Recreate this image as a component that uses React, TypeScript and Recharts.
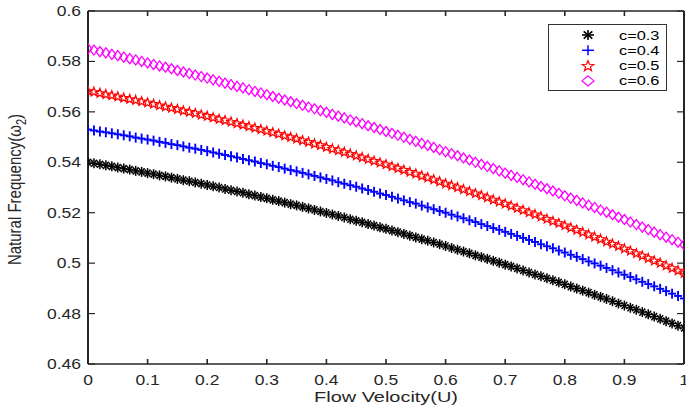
import React from 'react';
import { ScatterChart, Scatter, XAxis, YAxis, Legend } from 'recharts';

const U = [0, 0.01, 0.02, 0.03, 0.04, 0.05, 0.06, 0.07, 0.08, 0.09,
  0.1, 0.11, 0.12, 0.13, 0.14, 0.15, 0.16, 0.17, 0.18, 0.19,
  0.2, 0.21, 0.22, 0.23, 0.24, 0.25, 0.26, 0.27, 0.28, 0.29,
  0.3, 0.31, 0.32, 0.33, 0.34, 0.35, 0.36, 0.37, 0.38, 0.39,
  0.4, 0.41, 0.42, 0.43, 0.44, 0.45, 0.46, 0.47, 0.48, 0.49,
  0.5, 0.51, 0.52, 0.53, 0.54, 0.55, 0.56, 0.57, 0.58, 0.59,
  0.6, 0.61, 0.62, 0.63, 0.64, 0.65, 0.66, 0.67, 0.68, 0.69,
  0.7, 0.71, 0.72, 0.73, 0.74, 0.75, 0.76, 0.77, 0.78, 0.79,
  0.8, 0.81, 0.82, 0.83, 0.84, 0.85, 0.86, 0.87, 0.88, 0.89,
  0.9, 0.91, 0.92, 0.93, 0.94, 0.95, 0.96, 0.97, 0.98, 0.99, 1];

const C03 = [0.5400, 0.5396, 0.5392, 0.5388, 0.5384, 0.5379, 0.5375, 0.5371, 0.5366, 0.5362,
  0.5357, 0.5353, 0.5348, 0.5344, 0.5339, 0.5334, 0.5329, 0.5325, 0.5320, 0.5315,
  0.5310, 0.5305, 0.5300, 0.5294, 0.5289, 0.5284, 0.5279, 0.5273, 0.5268, 0.5262,
  0.5257, 0.5251, 0.5246, 0.5240, 0.5234, 0.5229, 0.5223, 0.5217, 0.5211, 0.5205,
  0.5199, 0.5193, 0.5187, 0.5181, 0.5174, 0.5168, 0.5162, 0.5155, 0.5149, 0.5142,
  0.5136, 0.5129, 0.5123, 0.5116, 0.5109, 0.5102, 0.5095, 0.5089, 0.5082, 0.5075,
  0.5068, 0.5060, 0.5053, 0.5046, 0.5039, 0.5031, 0.5024, 0.5017, 0.5009, 0.5002,
  0.4994, 0.4987, 0.4979, 0.4971, 0.4963, 0.4955, 0.4948, 0.4940, 0.4932, 0.4924,
  0.4916, 0.4907, 0.4899, 0.4891, 0.4883, 0.4874, 0.4866, 0.4858, 0.4849, 0.4840,
  0.4832, 0.4823, 0.4815, 0.4806, 0.4797, 0.4788, 0.4779, 0.4770, 0.4761, 0.4752, 0.4743];

const C04 = [0.5530, 0.5526, 0.5522, 0.5519, 0.5515, 0.5511, 0.5507, 0.5503, 0.5498, 0.5494,
  0.5490, 0.5486, 0.5481, 0.5477, 0.5472, 0.5468, 0.5463, 0.5458, 0.5454, 0.5449,
  0.5444, 0.5439, 0.5434, 0.5429, 0.5424, 0.5419, 0.5413, 0.5408, 0.5403, 0.5397,
  0.5392, 0.5386, 0.5381, 0.5375, 0.5369, 0.5364, 0.5358, 0.5352, 0.5346, 0.5340,
  0.5334, 0.5328, 0.5321, 0.5315, 0.5309, 0.5303, 0.5296, 0.5290, 0.5283, 0.5276,
  0.5270, 0.5263, 0.5256, 0.5249, 0.5242, 0.5236, 0.5228, 0.5221, 0.5214, 0.5207,
  0.5200, 0.5192, 0.5185, 0.5178, 0.5170, 0.5163, 0.5155, 0.5147, 0.5139, 0.5132,
  0.5124, 0.5116, 0.5108, 0.5100, 0.5092, 0.5084, 0.5075, 0.5067, 0.5059, 0.5050,
  0.5042, 0.5033, 0.5025, 0.5016, 0.5007, 0.4999, 0.4990, 0.4981, 0.4972, 0.4963,
  0.4954, 0.4945, 0.4936, 0.4926, 0.4917, 0.4908, 0.4898, 0.4889, 0.4879, 0.4870, 0.4860];

const C05 = [0.5685, 0.5681, 0.5676, 0.5671, 0.5667, 0.5662, 0.5657, 0.5652, 0.5648, 0.5643,
  0.5638, 0.5633, 0.5627, 0.5622, 0.5617, 0.5612, 0.5606, 0.5601, 0.5596, 0.5590,
  0.5585, 0.5579, 0.5573, 0.5568, 0.5562, 0.5556, 0.5550, 0.5544, 0.5538, 0.5532,
  0.5526, 0.5520, 0.5514, 0.5507, 0.5501, 0.5495, 0.5488, 0.5482, 0.5475, 0.5469,
  0.5462, 0.5455, 0.5449, 0.5442, 0.5435, 0.5428, 0.5421, 0.5414, 0.5407, 0.5400,
  0.5393, 0.5385, 0.5378, 0.5371, 0.5363, 0.5356, 0.5348, 0.5341, 0.5333, 0.5325,
  0.5317, 0.5310, 0.5302, 0.5294, 0.5286, 0.5278, 0.5270, 0.5262, 0.5253, 0.5245,
  0.5237, 0.5229, 0.5220, 0.5212, 0.5203, 0.5195, 0.5186, 0.5177, 0.5168, 0.5160,
  0.5151, 0.5142, 0.5133, 0.5124, 0.5115, 0.5106, 0.5097, 0.5087, 0.5078, 0.5069,
  0.5059, 0.5050, 0.5040, 0.5031, 0.5021, 0.5011, 0.5002, 0.4992, 0.4982, 0.4972, 0.4962];

const C06 = [0.5850, 0.5845, 0.5839, 0.5834, 0.5828, 0.5823, 0.5817, 0.5811, 0.5806, 0.5800,
  0.5794, 0.5788, 0.5782, 0.5777, 0.5771, 0.5764, 0.5758, 0.5752, 0.5746, 0.5740,
  0.5734, 0.5727, 0.5721, 0.5714, 0.5708, 0.5701, 0.5695, 0.5688, 0.5681, 0.5675,
  0.5668, 0.5661, 0.5654, 0.5647, 0.5640, 0.5633, 0.5626, 0.5619, 0.5612, 0.5605,
  0.5598, 0.5590, 0.5583, 0.5576, 0.5568, 0.5561, 0.5553, 0.5545, 0.5538, 0.5530,
  0.5522, 0.5515, 0.5507, 0.5499, 0.5491, 0.5483, 0.5475, 0.5467, 0.5459, 0.5450,
  0.5442, 0.5434, 0.5426, 0.5417, 0.5409, 0.5400, 0.5392, 0.5383, 0.5375, 0.5366,
  0.5357, 0.5348, 0.5340, 0.5331, 0.5322, 0.5313, 0.5304, 0.5295, 0.5286, 0.5277,
  0.5267, 0.5258, 0.5249, 0.5239, 0.5230, 0.5221, 0.5211, 0.5202, 0.5192, 0.5182,
  0.5173, 0.5163, 0.5153, 0.5143, 0.5133, 0.5123, 0.5113, 0.5103, 0.5093, 0.5083, 0.5073];

const SERIES_NAMES = ['c=0.3', 'c=0.4', 'c=0.5', 'c=0.6'];
const SERIES_COLORS = ['#000000', '#0000FF', '#FF0000', '#FF00FF'];
const SERIES_MARKERS = ['asterisk', 'plus', 'star', 'diamond'];
const SERIES_VALUES = [C03, C04, C05, C06];

const X_TICKS = [0, 0.1, 0.2, 0.3, 0.4, 0.5, 0.6, 0.7, 0.8, 0.9, 1];
const X_TICK_LABELS = ['0', '0.1', '0.2', '0.3', '0.4', '0.5', '0.6', '0.7', '0.8', '0.9', '1'];
const Y_TICKS = [0.46, 0.48, 0.5, 0.52, 0.54, 0.56, 0.58, 0.6];
const Y_TICK_LABELS = ['0.46', '0.48', '0.5', '0.52', '0.54', '0.56', '0.58', '0.6'];

const X_TITLE = 'Flow Velocity(U)';
const Y_TITLE_MAIN = 'Natural Frequency(';
const Y_TITLE_SYM = 'ω';
const Y_TITLE_SUB = '2';

const AXIS = '#262626';
const FONT = '"Liberation Sans", Arial, Helvetica, sans-serif';

function Marker({ kind, cx, cy, hw, hh, color, sw }: any) {
  if (cx == null || cy == null) return null;
  if (kind === 'asterisk') {
    const d = 0.72;
    return (
      <g stroke={color} strokeWidth={sw} fill="none">
        <line x1={cx - hw} y1={cy} x2={cx + hw} y2={cy} />
        <line x1={cx} y1={cy - hh} x2={cx} y2={cy + hh} />
        <line x1={cx - hw * d} y1={cy - hh * d} x2={cx + hw * d} y2={cy + hh * d} />
        <line x1={cx - hw * d} y1={cy + hh * d} x2={cx + hw * d} y2={cy - hh * d} />
      </g>
    );
  }
  if (kind === 'plus') {
    return (
      <g stroke={color} strokeWidth={sw} fill="none">
        <line x1={cx - hw} y1={cy} x2={cx + hw} y2={cy} />
        <line x1={cx} y1={cy - hh} x2={cx} y2={cy + hh} />
      </g>
    );
  }
  if (kind === 'star') {
    const pts: string[] = [];
    for (let k = 0; k < 10; k++) {
      const a = -Math.PI / 2 + (k * Math.PI) / 5;
      const r = k % 2 === 0 ? 1 : 0.42;
      pts.push(`${cx + Math.cos(a) * r * hw},${cy + 0.1 * hh + Math.sin(a) * r * hh}`);
    }
    return <polygon points={pts.join(' ')} stroke={color} strokeWidth={sw} fill="none" />;
  }
  const pts = `${cx},${cy - hh} ${cx + hw},${cy} ${cx},${cy + hh} ${cx - hw},${cy}`;
  return <polygon points={pts} stroke={color} strokeWidth={sw} fill="none" />;
}

const PLOT_MARK: any = {
  asterisk: { hw: 4, hh: 5, sw: 1.5 },
  plus: { hw: 4, hh: 5, sw: 1.9 },
  star: { hw: 4.5, hh: 4.8, sw: 1.2 },
  diamond: { hw: 4, hh: 5, sw: 1.3 },
};
const LEGEND_MARK: any = {
  asterisk: { hw: 6, hh: 5, sw: 1.6 },
  plus: { hw: 6, hh: 5, sw: 1.5 },
  star: { hw: 6, hh: 5.5, sw: 1.2 },
  diamond: { hw: 6, hh: 5, sw: 1.2 },
};

const lookup = (ticks: number[], labels: string[], v: number) => {
  const i = ticks.findIndex((t) => Math.abs(t - v) < 1e-9);
  return i >= 0 ? labels[i] : String(v);
};

const BottomTick = (props: any) => {
  const { x, y, payload } = props;
  return (
    <g>
      <line x1={x} x2={x} y1={y} y2={y - 5} stroke={AXIS} strokeWidth={1.6} />
      <text transform={`translate(${x},${y + 21}) scale(1.25,1)`} textAnchor="middle" fontSize={14} fontFamily={FONT} fill={AXIS}>
        {lookup(X_TICKS, X_TICK_LABELS, payload.value)}
      </text>
    </g>
  );
};
const TopTick = (props: any) => {
  const { x, y } = props;
  return <line x1={x} x2={x} y1={y} y2={y + 5} stroke={AXIS} strokeWidth={1.6} />;
};
const LeftTick = (props: any) => {
  const { x, y, payload } = props;
  return (
    <g>
      <line x1={x} x2={x + 7} y1={y} y2={y} stroke={AXIS} strokeWidth={1.2} />
      <text transform={`translate(${x - 7},${y + 5}) scale(1.25,1)`} textAnchor="end" fontSize={14} fontFamily={FONT} fill={AXIS}>
        {lookup(Y_TICKS, Y_TICK_LABELS, payload.value)}
      </text>
    </g>
  );
};
const RightTick = (props: any) => {
  const { x, y } = props;
  return <line x1={x} x2={x - 7} y1={y} y2={y} stroke={AXIS} strokeWidth={1.2} />;
};

const XTitle = (props: any) => {
  const vb = props.viewBox || {};
  const cx = vb.x + vb.width / 2;
  return (
    <text transform={`translate(${cx},${vb.y + 38}) scale(1.33,1)`} textAnchor="middle" fontSize={15} fontFamily={FONT} fill={AXIS}>
      {X_TITLE}
    </text>
  );
};

const YTitle = (props: any) => {
  const vb = props.viewBox || {};
  const cy = vb.y + vb.height / 2 + 2;
  return (
    <text transform={`translate(21,${cy}) scale(1.28,1) rotate(-90)`} textAnchor="middle" fontSize={15} fontFamily={FONT} fill={AXIS}>
      {Y_TITLE_MAIN}
      <tspan>{Y_TITLE_SYM}</tspan>
      <tspan dy={4} fontSize={11}>{Y_TITLE_SUB}</tspan>
      <tspan dy={-4}>)</tspan>
    </text>
  );
};

const LegendBox = () => (
  <svg width={120} height={68} style={{ display: 'block' }}>
    <rect x={0.5} y={0.5} width={118} height={66} fill="#fff" stroke="#333" strokeWidth={1} />
    {SERIES_NAMES.map((name, i) => {
      const cy = 11 + i * 15.3;
      const m = LEGEND_MARK[SERIES_MARKERS[i]];
      return (
        <g key={name}>
          <Marker kind={SERIES_MARKERS[i]} cx={40} cy={cy} hw={m.hw} hh={m.hh} color={SERIES_COLORS[i]} sw={m.sw} />
          <text transform={`translate(71,${cy + 4.5}) scale(1.26,1)`} fontSize={13} fontFamily={FONT} fill="#000">
            {name}
          </text>
        </g>
      );
    })}
  </svg>
);

const AXIS_OF = [
  { x: 'b', y: 'l' },
  { x: 'b', y: 'l' },
  { x: 't', y: 'r' },
  { x: 't', y: 'r' },
];

export default function App() {
  const datasets = SERIES_VALUES.map((vals) => U.map((u, i) => ({ x: u, y: vals[i] })));
  return (
    <div style={{ position: 'fixed', left: 0, top: 0, width: 686, height: 409, overflow: 'hidden', background: '#fff' }}>
      <style>{'html,body{margin:0;padding:0;overflow:hidden;}'}</style>
      <ScatterChart width={686} height={409} margin={{ top: 10, right: 1, bottom: 15, left: 0 }}>
        <XAxis
          xAxisId="b"
          type="number"
          dataKey="x"
          domain={[0, 1]}
          ticks={X_TICKS}
          interval={0}
          height={30}
          tickSize={0}
          tickMargin={0}
          tickLine={false}
          axisLine={{ stroke: AXIS, strokeWidth: 1.6 }}
          tick={<BottomTick />}
          label={{ content: <XTitle /> } as any}
          allowDataOverflow
        />
        <XAxis
          xAxisId="t"
          orientation="top"
          type="number"
          dataKey="x"
          domain={[0, 1]}
          ticks={X_TICKS}
          interval={0}
          height={1}
          tickSize={0}
          tickMargin={0}
          tickLine={false}
          axisLine={{ stroke: AXIS, strokeWidth: 1.6 }}
          tick={<TopTick />}
          allowDataOverflow
        />
        <YAxis
          yAxisId="l"
          type="number"
          dataKey="y"
          domain={[0.46, 0.6]}
          ticks={Y_TICKS}
          interval={0}
          width={88}
          tickSize={0}
          tickMargin={0}
          tickLine={false}
          axisLine={{ stroke: AXIS, strokeWidth: 2 }}
          tick={<LeftTick />}
          label={{ content: <YTitle /> } as any}
          allowDataOverflow
        />
        <YAxis
          yAxisId="r"
          orientation="right"
          type="number"
          dataKey="y"
          domain={[0.46, 0.6]}
          ticks={Y_TICKS}
          interval={0}
          width={1}
          tickSize={0}
          tickMargin={0}
          tickLine={false}
          axisLine={{ stroke: AXIS, strokeWidth: 2 }}
          tick={<RightTick />}
          allowDataOverflow
        />
        {datasets.map((d, i) => {
          const kind = SERIES_MARKERS[i];
          const m = PLOT_MARK[kind];
          return (
            <Scatter
              key={SERIES_NAMES[i]}
              name={SERIES_NAMES[i]}
              data={d}
              xAxisId={AXIS_OF[i].x}
              yAxisId={AXIS_OF[i].y}
              fill={SERIES_COLORS[i]}
              isAnimationActive={false}
              shape={(p: any) => <Marker kind={kind} cx={p.cx} cy={p.cy} hw={m.hw} hh={m.hh} color={SERIES_COLORS[i]} sw={m.sw} />}
            />
          );
        })}
        <Legend
          layout="vertical"
          align="center"
          verticalAlign="middle"
          content={<LegendBox />}
          wrapperStyle={{ position: 'absolute', left: 548, top: 24, width: 120, height: 68, margin: 0, padding: 0 }}
        />
      </ScatterChart>
    </div>
  );
}
